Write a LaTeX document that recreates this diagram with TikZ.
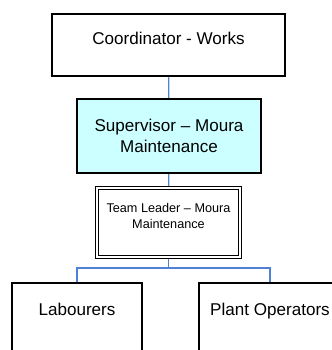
\documentclass[tikz,border=0pt]{standalone}
\usepackage{fontspec}
\setmainfont{Liberation Sans}
\usetikzlibrary{backgrounds}

\definecolor{connblue}{RGB}{79,129,214}
\definecolor{supfill}{RGB}{204,255,255}

\tikzset{
	box/.style={draw=black, line width=1pt, fill=white, align=center, inner sep=0pt,
		font=\fontsize{12.8}{15.75}\selectfont},
	dblbox/.style={box, double=white, line width=0.9pt, double distance=1.7pt,
		font=\fontsize{9.5}{12}\selectfont},
	conn/.style={draw=connblue, line width=0.85pt}
}

\begin{document}
\begin{tikzpicture}[x=0.75pt,y=0.75pt,yscale=-1,xscale=1]
	\useasboundingbox (0,0) rectangle (332,350);
	\clip (0,0) rectangle (332,350);
	
	% Coordinator
	\node (coord) [box, minimum width=174.75pt, minimum height=46.5pt, text depth=9.3pt] at (168.5,45) {Coordinator - Works};
	% Supervisor
	\node (super) [box, fill=supfill, minimum width=138pt, minimum height=55.5pt] at (169,136) {Supervisor -- Moura\\Maintenance};
	% Team Leader
	\node (lead) [dblbox, minimum width=107.25pt, minimum height=51.75pt, text depth=10pt] at (168.5,222.5) {Team Leader -- Moura\\Maintenance};
	% Labourers
	\node (lab) [box, minimum width=97.5pt, minimum height=52.5pt, text depth=12.3pt] at (77,318) {Labourers};
	% Plant Operators
	\node (plant) [box, minimum width=106.5pt, minimum height=52.5pt, text depth=12.3pt] at (270,318) {Plant Operators};
	
	\coordinate (split) at (168.5,268);
	
	% Connections
	\begin{scope}[on background layer]
		\draw [conn] (coord) -- (super);
		\draw [conn] (super) -- (lead);
		\draw [conn] (lead.south) -- (split);
		\draw [conn] (lab.north) |- (split) -| (plant.north);
	\end{scope}
	
\end{tikzpicture}
\end{document}
